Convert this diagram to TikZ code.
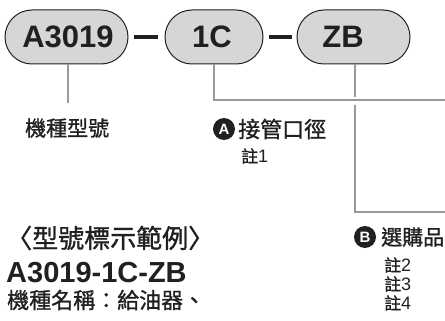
\documentclass[tikz,border=0pt]{standalone}
\usepackage{fontspec}
\setmainfont{Liberation Sans}
\newfontfamily\cjk[FakeBold=1.2]{Noto Sans CJK TC}
\newfontfamily\lat{Liberation Sans}
\usetikzlibrary{calc,shapes.misc}
\definecolor{ink}{HTML}{231F20}
\definecolor{pillfill}{HTML}{D6D6D6}
\definecolor{linegray}{HTML}{9A9A9A}
\tikzset{
  pill/.style={rounded rectangle, draw=ink, line width=1pt, fill=pillfill, minimum height=54pt, inner sep=0pt},
  pilltext/.style={inner sep=0pt, text=ink, font=\lat\bfseries\fontsize{31}{31}\selectfont},
  dashbar/.style={draw=ink, line width=4.5pt},
  conn/.style={draw=linegray, line width=2pt},
  lbl/.style={anchor=west, inner sep=0pt, text=ink, font=\cjk\fontsize{21}{21}\selectfont},
  note/.style={anchor=west, inner sep=0pt, text=ink, font=\cjk\fontsize{17}{17}\selectfont},
  badge/.style={circle, fill=ink, inner sep=0pt, minimum size=22pt, text=white, font=\lat\bfseries\fontsize{15}{15}\selectfont},
}
\newcommand{\notenum}[1]{註{\lat\fontsize{18}{18}\selectfont #1}}
\begin{document}
\begin{tikzpicture}[x=1pt,y=-1pt]
\useasboundingbox (0,0) rectangle (445,321);
% pills
\node[pill, minimum width=123pt] (p1) at (66.5,37) {};
\node[pill, minimum width=98pt] (p2) at (214,37) {};
\node[pill, minimum width=113pt] (p3) at (353.5,37) {};
\node[pilltext] (t1) at (68,37) {A3019};
\node[pilltext] (t2) at (212,37) {1C};
\node[pilltext] (t3) at (343,37) {ZB};
% dashes
\draw[dashbar] ($(p1.east)+(5,0)$) -- ($(p2.west)+(-7,0)$);
\draw[dashbar] ($(p2.east)+(5,0)$) -- ($(p3.west)+(-5,0)$);
% connector end points
\coordinate (e1) at (68,103);
\coordinate (c2) at (214,100.5);
\coordinate (e2) at (445,100.5);
\coordinate (g1) at (355,97);
\coordinate (g2) at (355,105);
\coordinate (c3) at (355,212);
\coordinate (e3) at (445,212);
\draw[conn] (p1.south -| e1) -- (e1);
\draw[conn] (p2.south) -- (c2) -- (e2);
\draw[conn] (p3.south -| g1) -- (g1);
\draw[conn] (g2) -- (c3) -- (e3);
% labels
\node[lbl] (l1) at (25,128) {機種型號};
\node[badge] (ba) at (224,129) {A};
\node[lbl, font=\cjk\fontsize{22}{22}\selectfont] (l2) at (238,129) {接管口徑};
\node[note] (n1) at (241,156) {\notenum{1}};
\node[badge] (bb) at (365,237) {B};
\node[lbl] (l3) at (381,237) {選購品};
\node[note] (n2) at (384,265) {\notenum{2}};
\node[note] (n3) at (384,284) {\notenum{3}};
\node[note] (n4) at (384,303) {\notenum{4}};
% example
\node[lbl, font=\cjk\fontsize{26}{26}\selectfont] (h1) at (6,238) {〈型號標示範例〉};
\node[anchor=west, inner sep=0pt, text=ink, font=\lat\bfseries\fontsize{29}{29}\selectfont] (h2) at (6,273) {A3019-1C-ZB};
\node[lbl, font=\cjk\fontsize{22}{22}\selectfont] (h3) at (7,300) {機種名稱：給油器、};
\end{tikzpicture}
\end{document}
